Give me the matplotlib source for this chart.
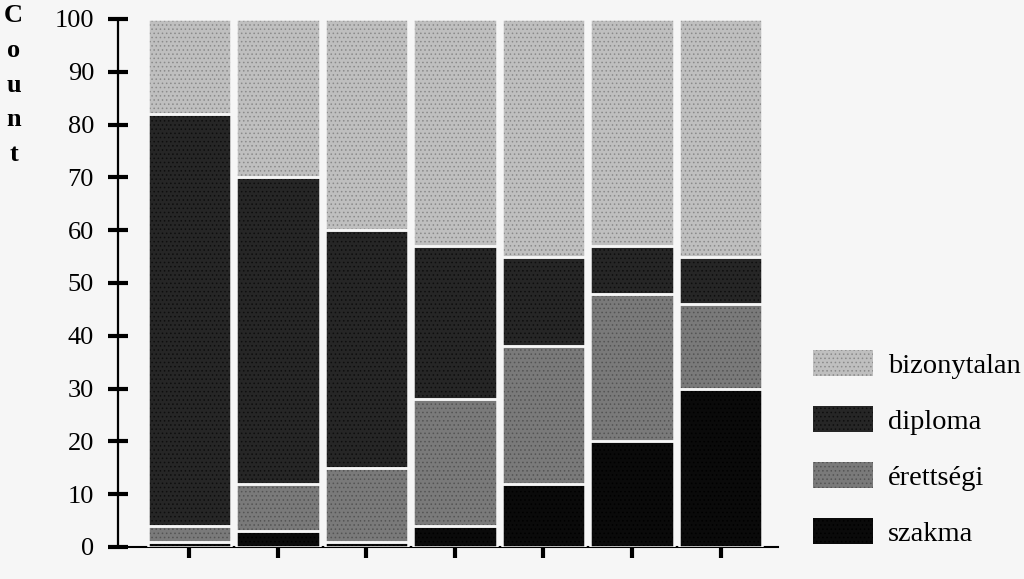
import numpy as np
import matplotlib
matplotlib.use("Agg")
import matplotlib.pyplot as plt
from matplotlib.patches import Patch

# values (counts, percent of each group)
categories = ["1", "2", "3", "4", "5", "6", "7"]
szakma = [1, 3, 1, 4, 12, 20, 30]
erettsegi = [3, 9, 14, 24, 26, 28, 16]
diploma = [78, 58, 45, 29, 17, 9, 9]
bizonytalan = [18, 30, 40, 43, 45, 43, 45]

series = [("szakma", szakma, "#0a0a0a", "#000000"),
          ("érettségi", erettsegi, "#7a7a7a", "#545454"),
          ("diploma", diploma, "#262626", "#0e0e0e"),
          ("bizonytalan", bizonytalan, "#bfbfbf", "#8a8a8a")]

plt.rcParams['font.family'] = ['Liberation Serif', 'DejaVu Serif']
plt.rcParams['hatch.linewidth'] = 0.6

fig = plt.figure(figsize=(10.24, 5.79), dpi=100, facecolor="#f6f6f6")
ax = fig.add_axes([0.1152, 0.0553, 0.7598 - 0.1152, 0.9672 - 0.0553])
ax.set_facecolor("#f6f6f6")

x = np.arange(len(categories))
bottom = np.zeros(len(categories))
for name, vals, fc, dc in series:
    vals = np.array(vals, dtype=float)
    ax.bar(x, vals, 0.94, bottom=bottom, color=fc, edgecolor=dc,
           linewidth=0, hatch="....", zorder=2)
    ax.bar(x, vals, 0.94, bottom=bottom, fill=False, edgecolor="#f6f6f6",
           linewidth=1.8, zorder=3)
    bottom += vals

ax.set_xlim(-0.808, 6.65)
ax.set_ylim(0, 100)
ax.set_yticks(range(0, 101, 10))
ax.set_xticks(x)
ax.set_xticklabels([])
for s in ["top", "right"]:
    ax.spines[s].set_visible(False)
ax.spines["left"].set_linewidth(1.6)
ax.spines["bottom"].set_linewidth(1.5)
ax.tick_params(axis="y", direction="inout", length=14.5, width=3, labelsize=19, pad=10)
ax.tick_params(axis="x", direction="out", length=8, width=3)

ax.set_ylabel("\n".join("Count"), rotation=0, fontsize=19, fontweight="bold",
              linespacing=1.65, va="top", ha="center")
ax.yaxis.set_label_coords(-0.158, 1.028)

handles = [Patch(facecolor=fc, edgecolor=dc, hatch="....", linewidth=0)
           for name, vals, fc, dc in series[::-1]]
labels = [name for name, vals, fc, dc in series[::-1]]
fig.legend(handles, labels, loc="upper left", bbox_to_anchor=(0.794, 1 - 350 / 579),
           frameon=False, fontsize=20.5, handlelength=2.1, handleheight=1.05,
           labelspacing=0.95, handletextpad=0.53, borderpad=0, borderaxespad=0)

fig.savefig("out.png", dpi=100, facecolor=fig.get_facecolor())
